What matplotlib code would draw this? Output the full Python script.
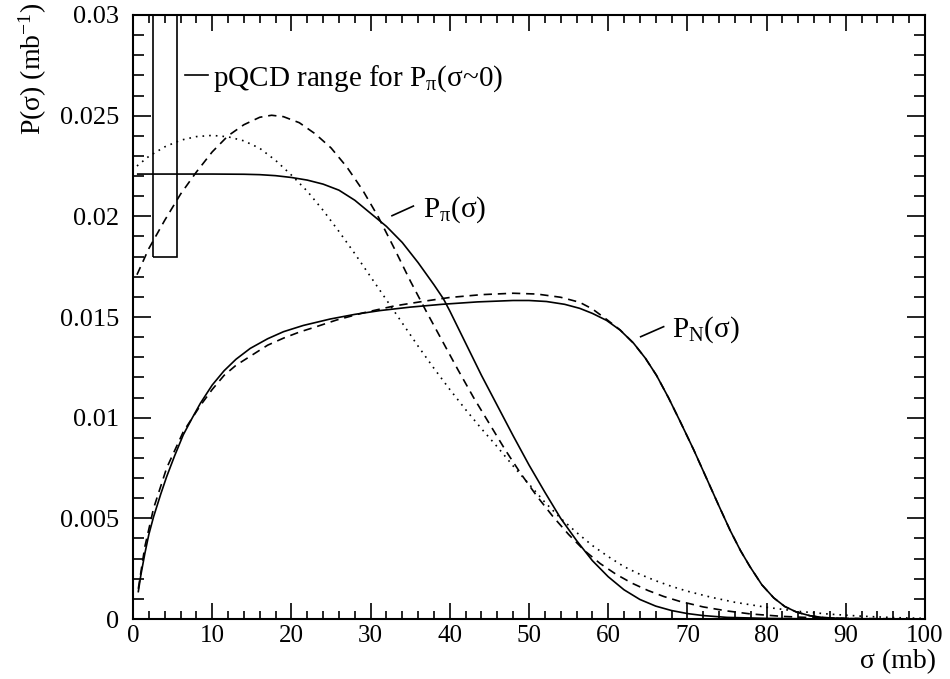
import matplotlib
matplotlib.use("Agg")
import matplotlib.pyplot as plt
from matplotlib.ticker import MultipleLocator, FormatStrFormatter
from matplotlib.patches import Rectangle

plt.rcParams["font.family"] = ["Liberation Serif", "DejaVu Serif"]
plt.rcParams["mathtext.fontset"] = "custom"
plt.rcParams["mathtext.rm"] = "Liberation Serif"
plt.rcParams["mathtext.it"] = "Liberation Serif"

# P_pi(sigma), solid
pi_solid_x = [0.6, 5, 10, 14, 16, 18, 20, 22, 24, 26, 28, 30, 32, 34, 36, 38, 39.2, 40,
              42, 44, 46, 48, 50, 52, 54, 56, 58, 60, 62, 64, 66, 68, 70, 72, 75, 80, 85, 100]
pi_solid_y = [0.0221, 0.0221, 0.0221, 0.02209, 0.02207, 0.02202, 0.02193, 0.0218, 0.0216,
              0.0213, 0.0208, 0.02015, 0.0195, 0.0187, 0.0177, 0.0166, 0.0159, 0.0153,
              0.0137, 0.0121, 0.0106, 0.0091, 0.00765, 0.0063, 0.0050, 0.0039, 0.0029,
              0.0021, 0.00145, 0.00097, 0.00064, 0.00042, 0.00027, 0.00017, 0.00008,
              0.00003, 0.00001, 0.0]

# P_pi(sigma), dashed
pi_dash_x = [0.5, 2, 4, 6, 8, 10, 12, 14, 16, 17.5, 19, 21, 23, 25, 27, 29, 31, 33, 35,
             37, 39, 41, 43, 45, 47, 49, 51, 53, 55, 57, 59, 61, 63, 65, 67, 69, 72, 75,
             78, 82, 86, 90, 100]
pi_dash_y = [0.0171, 0.0184, 0.0198, 0.0211, 0.0222, 0.0232, 0.0240, 0.02455, 0.02492,
             0.02502, 0.02495, 0.02465, 0.0241, 0.0234, 0.02245, 0.0213, 0.01995, 0.0184,
             0.0168, 0.0153, 0.01385, 0.0124, 0.0110, 0.0097, 0.0084, 0.0072, 0.0061,
             0.0051, 0.0042, 0.0034, 0.00275, 0.00222, 0.00178, 0.00142, 0.00112, 0.00088,
             0.0006, 0.0004, 0.00025, 0.00013, 0.00006, 0.00003, 0.0]

# P_pi(sigma), dotted
pi_dot_x = [0.5, 2, 4, 6, 8, 10, 12, 14, 16, 18, 20, 22, 24, 26, 28, 30, 32, 34, 36, 38,
            40, 42, 44, 46, 48, 50, 52, 54, 56, 58, 60, 62, 64, 66, 68, 70, 73, 76, 80,
            84, 88, 92, 96, 100]
pi_dot_y = [0.0225, 0.02298, 0.02345, 0.02378, 0.02396, 0.02402, 0.02395, 0.02375,
            0.02338, 0.02278, 0.02205, 0.02125, 0.0203, 0.01925, 0.01815, 0.017, 0.01585,
            0.0147, 0.01355, 0.01245, 0.0114, 0.0104, 0.00945, 0.00855, 0.0076, 0.0067,
            0.0058, 0.0050, 0.0043, 0.00365, 0.0031, 0.0026, 0.00222, 0.0019, 0.00162,
            0.00138, 0.00108, 0.00083, 0.00058, 0.00038, 0.00024, 0.00014, 0.00007,
            0.00003]

# P_N(sigma), solid
n_solid_x = [0.67, 1, 1.5, 2, 2.6, 3.5, 4.25, 5.25, 6.35, 7.5, 8.5, 10, 11.5, 13, 14.8,
             17, 19, 21.5, 24.9, 28, 31.2, 35, 39, 43.5, 48, 50, 52.2, 54.5, 56.4, 58,
             59.8, 61.5, 63.2, 64.7, 66.1, 67.6, 69.1, 70.8, 72.4, 74, 75.4, 76.7, 77.9,
             79.4, 80.9, 82.3, 83.8, 85.5, 87.2, 90, 95, 100]
n_solid_y = [0.00136, 0.0022, 0.00326, 0.0042, 0.00508, 0.0062, 0.00707, 0.0081, 0.00915,
             0.0100, 0.01071, 0.01162, 0.01233, 0.0129, 0.01344, 0.01392, 0.01427,
             0.01458, 0.0149, 0.01513, 0.01532, 0.01549, 0.01563, 0.01575, 0.01582,
             0.01582, 0.01577, 0.01563, 0.01543, 0.01518, 0.01483, 0.01435, 0.0137,
             0.01295, 0.0121, 0.0110, 0.0098, 0.0084, 0.0070, 0.0056, 0.0044, 0.0034,
             0.0026, 0.0017, 0.00105, 0.00062, 0.00034, 0.00016, 0.00007, 0.00002, 0.0, 0.0]

# P_N(sigma), dashed
n_dash_x = [0.67, 1.5, 2.6, 4.25, 6.35, 8.5, 10, 11.5, 13, 15, 17, 19, 21, 23, 25.7, 29,
            33, 36.7, 40, 44, 48, 51, 54, 56.4, 58, 59.8, 61.5, 63.2, 64.7, 66.1, 67.6,
            69.1, 70.8, 72.4, 74, 75.4, 76.7, 77.9, 79.4, 80.9, 82.3, 83.8, 85.5, 87.2,
            90, 95, 100]
n_dash_y = [0.0015, 0.0036, 0.0055, 0.0075, 0.0093, 0.0106, 0.0114, 0.0121, 0.0126,
            0.0131, 0.0136, 0.01395, 0.01425, 0.0145, 0.01485, 0.0152, 0.01555, 0.01578,
            0.01597, 0.01611, 0.01618, 0.01614, 0.01598, 0.01573, 0.0154, 0.01488,
            0.01436, 0.0137, 0.01295, 0.0121, 0.0110, 0.0098, 0.0084, 0.0070, 0.0056,
            0.0044, 0.0034, 0.0026, 0.0017, 0.00105, 0.00062, 0.00034, 0.00016, 0.00007,
            0.00002, 0.0, 0.0]

# pQCD range box
pqcd_x = [2.5, 5.6]
pqcd_y = [0.018, 0.031]

fig = plt.figure(figsize=(9.5, 6.79), dpi=100)
ax = fig.add_axes([133 / 950, 60 / 679, 792 / 950, 604 / 679])

lw = 1.2
dash = (0, (5, 3.5))
dot = (0, (1, 3))
ax.plot(pi_solid_x, pi_solid_y, color="black", lw=lw)
ax.plot(pi_dash_x, pi_dash_y, color="black", lw=lw, linestyle=dash)
ax.plot(pi_dot_x, pi_dot_y, color="black", lw=lw, linestyle=dot)
ax.plot(n_solid_x, n_solid_y, color="black", lw=lw)
ax.plot(n_dash_x, n_dash_y, color="black", lw=lw, linestyle=dash)

ax.add_patch(Rectangle((pqcd_x[0], pqcd_y[0]), pqcd_x[1] - pqcd_x[0],
                       pqcd_y[1] - pqcd_y[0], fill=False, edgecolor="black", lw=lw))

# labels with leader lines
ax.plot([6.6, 9.5], [0.0270, 0.0270], color="black", lw=lw)
ax.text(10.1, 0.02647, r"pQCD range for P$_{π}$(σ~0)", fontsize=21, va="baseline")
ax.plot([32.7, 35.4], [0.02003, 0.02051], color="black", lw=lw)
ax.text(36.6, 0.0200, r"P$_{π}$(σ)", fontsize=21, va="baseline")
ax.plot([64.1, 67.0], [0.01402, 0.01452], color="black", lw=lw)
ax.text(68.0, 0.01402, r"P$_{\rm N}$(σ)", fontsize=21, va="baseline")

ax.set_xlim(0, 100)
ax.set_ylim(0, 0.03)
ax.xaxis.set_major_locator(MultipleLocator(10))
ax.xaxis.set_minor_locator(MultipleLocator(2))
ax.yaxis.set_major_locator(MultipleLocator(0.005))
ax.yaxis.set_minor_locator(MultipleLocator(0.001))
ax.yaxis.set_major_formatter(FormatStrFormatter("%g"))
ax.tick_params(which="both", direction="in", top=True, right=True, labelsize=19, width=1.2)
ax.tick_params(axis="x", which="major", length=11.5, pad=4, labelsize=18)
ax.tick_params(axis="x", which="minor", length=6)
ax.tick_params(axis="y", which="major", length=13, pad=10)
ax.tick_params(axis="y", which="minor", length=8)
for s in ax.spines.values():
    s.set_linewidth(1.5)

fig.text(33 / 950, 1 - 3 / 679, r"P(σ) (mb$^{-1}$)", rotation=90, fontsize=20,
         ha="center", va="top")
fig.text(936 / 950, 1 - 662 / 679, "σ (mb)", fontsize=20, ha="right", va="center")

fig.savefig("out.png", dpi=100)
